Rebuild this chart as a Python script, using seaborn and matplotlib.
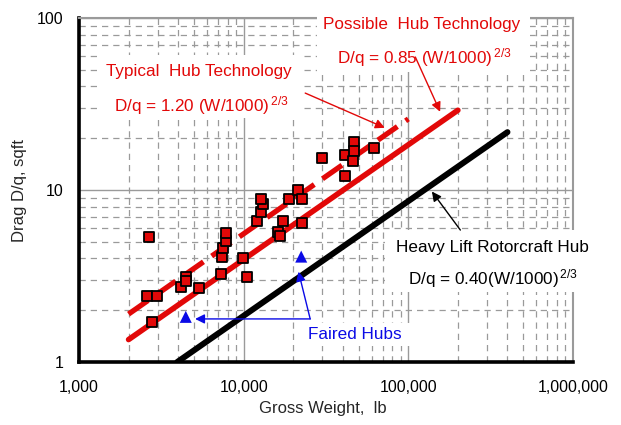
import numpy as np
import pandas as pd
import matplotlib
matplotlib.use("Agg")
import matplotlib.pyplot as plt
import matplotlib.ticker as mticker
from matplotlib.patches import Rectangle
import seaborn as sns

# rotor hub drag data
hub_weight = [2670, 2580, 2970, 2770, 4150, 4450, 4450, 5340, 7300, 7430,
              7540, 7830, 7830, 9970, 10550, 11970, 12780, 13190, 12820, 16140,
              16670, 17220, 18910, 21230, 22450, 22740, 29980, 41400, 41400,
              46500, 46960, 45990, 61500]
hub_drag = [5.35, 2.42, 2.42, 1.70, 2.74, 3.13, 2.97, 2.68, 3.26, 4.06,
            4.58, 5.07, 5.60, 4.02, 3.13, 6.63, 7.48, 8.26, 8.87, 5.68,
            5.43, 6.58, 8.87, 10.0, 8.87, 6.46, 15.3, 16.0, 12.1,
            19.1, 16.9, 14.8, 17.5]

faired_weight = [4450, 22360]
faired_drag = [1.83, 4.10]

# trend lines  D/q = k (W/1000)^(2/3)
typical_w = [2000, 100000]
typical_d = [1.90, 25.9]
possible_w = [2000, 200000]
possible_d = [1.35, 29.1]
heavy_w = [3950, 400000]
heavy_d = [1.0, 21.7]

RED = "#e20808"
BLUE = "#0a0ae6"

sns.set_style("white")
plt.rcParams["font.family"] = ["Liberation Sans", "DejaVu Sans"]
plt.rcParams["mathtext.fontset"] = "custom"
plt.rcParams["mathtext.rm"] = "Liberation Sans"
plt.rcParams["mathtext.it"] = "Liberation Sans"

W, H = 621, 425
fig = plt.figure(figsize=(W / 100, H / 100), dpi=100)
ax = fig.add_axes([79 / W, 1 - 362 / H, (573 - 79) / W, (362 - 18) / H])
ax.set_xscale("log")
ax.set_yscale("log")
ax.set_xlim(1000, 1e6)
ax.set_ylim(1, 100)

ax.set_axisbelow(True)
ax.xaxis.set_minor_locator(mticker.LogLocator(base=10, subs=np.arange(2, 10)))
ax.yaxis.set_minor_locator(mticker.LogLocator(base=10, subs=np.arange(2, 10)))
ax.grid(which="major", color="#9a9a9a", lw=1.0, ls="-")
ax.grid(which="minor", color="#9a9a9a", lw=0.9, ls=(0, (5, 4)))

sns.lineplot(x=typical_w, y=typical_d, ax=ax, color=RED, lw=3.8,
             linestyle=(0, (4.5, 1.9)), zorder=4)
sns.lineplot(x=possible_w, y=possible_d, ax=ax, color=RED, lw=4.0, zorder=4)
sns.lineplot(x=heavy_w, y=heavy_d, ax=ax, color="black", lw=4.3, zorder=4)

sns.scatterplot(x=hub_weight, y=hub_drag, ax=ax, marker="s", s=55, color=RED,
                edgecolor="black", linewidth=1.3, zorder=5)
sns.scatterplot(x=faired_weight, y=faired_drag, ax=ax, marker="^", s=75,
                color=BLUE, edgecolor="none", zorder=5)

# white boxes behind the labels (pixel extents)
def cover(x0, y0, x1, y1):
    ax.add_patch(Rectangle((x0 / W, 1 - y1 / H), (x1 - x0) / W, (y1 - y0) / H,
                           transform=fig.transFigure, fc="white", ec="none",
                           zorder=2.7, clip_on=False))

cover(317, 0, 530, 72)
cover(100, 55, 300, 118)
cover(385, 230, 621, 292)
cover(306, 323, 410, 346)

fs = 12.3
sup = r"$^{\,\mathregular{2/3}}$"
ax.text(121000, 86.0, "Possible  Hub Technology", color=RED, fontsize=fs,
        ha="center", va="baseline", zorder=6)
ax.text(125000, 54.4, "D/q = 0.85 (W/1000)" + sup, color=RED, fontsize=fs,
        ha="center", va="baseline", zorder=6)
ax.text(5364, 46.0, "Typical  Hub Technology", color=RED, fontsize=fs,
        ha="center", va="baseline", zorder=6)
ax.text(5515, 28.5, "D/q = 1.20 (W/1000)" + sup, color=RED, fontsize=fs,
        ha="center", va="baseline", zorder=6)
ax.text(323000, 4.38, "Heavy Lift Rotorcraft Hub", color="black", fontsize=fs,
        ha="center", va="baseline", zorder=6)
ax.text(328700, 2.84, "D/q = 0.40(W/1000)" + sup, color="black", fontsize=fs,
        ha="center", va="baseline", zorder=6)
ax.text(47600, 1.356, "Faired Hubs", color=BLUE, fontsize=fs,
        ha="center", va="baseline", zorder=6)

arrow = dict(arrowstyle="-|>", lw=1.0, mutation_scale=14, shrinkA=0, shrinkB=0)
ax.annotate("", xy=(72000, 23.0), xytext=(23650, 36.6),
            arrowprops=dict(arrow, color=RED), zorder=6)
ax.annotate("", xy=(156000, 28.5), xytext=(110300, 59.3),
            arrowprops=dict(arrow, color=RED), zorder=6)
ax.annotate("", xy=(139000, 9.8), xytext=(207000, 5.85),
            arrowprops=dict(arrow, color="black"), zorder=6)
ax.annotate("", xy=(5070, 1.78), xytext=(25350, 1.78),
            arrowprops=dict(arrow, color=BLUE), zorder=6)
ax.annotate("", xy=(21530, 3.35), xytext=(25350, 1.78),
            arrowprops=dict(arrow, color=BLUE), zorder=6)

for side in ["left", "bottom"]:
    ax.spines[side].set_color("black")
    ax.spines[side].set_linewidth(2.6)
for side in ["top", "right"]:
    ax.spines[side].set_color("#9a9a9a")
    ax.spines[side].set_linewidth(1.5)

ax.xaxis.set_major_formatter(mticker.FuncFormatter(lambda v, p: f"{int(round(v)):,}"))
ax.yaxis.set_major_formatter(mticker.FuncFormatter(lambda v, p: f"{int(round(v))}"))
ax.xaxis.set_minor_formatter(mticker.NullFormatter())
ax.yaxis.set_minor_formatter(mticker.NullFormatter())
ax.tick_params(which="major", direction="in", length=4, width=2, colors="black",
               labelsize=11.5)
ax.tick_params(axis="x", which="major", pad=13)
ax.tick_params(axis="y", which="major", pad=11)
ax.tick_params(which="minor", length=0)

ax.set_xlabel("Gross Weight,  lb", fontsize=12)
ax.set_ylabel("Drag D/q, sqft", fontsize=12)
ax.xaxis.set_label_coords((323 - 79) / 494, (362 - 401) / 344)
ax.yaxis.set_label_coords((27 - 79) / 494, 0.5)

fig.savefig("out.png", dpi=100)
